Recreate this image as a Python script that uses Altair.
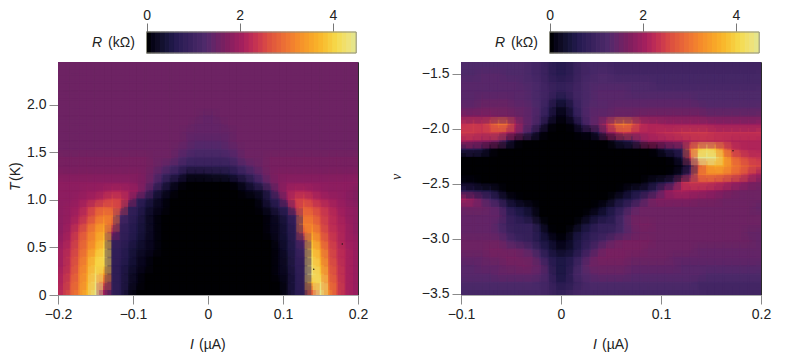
import altair as alt
import pandas as pd

# Resistance in units of 0.1 kOhm, rows listed top to bottom, columns left to right
left_R = [
[15,15,15,15,15,15,15,15,15,15,15,15,15,15,15,15,15,15,15,15,15,15,15,15,15,15,15,15,15,15,15,15,15,15,15,15],
[15,15,15,15,15,15,15,15,15,15,15,15,15,15,15,15,15,15,15,15,15,15,15,15,15,15,15,15,15,15,15,15,15,15,15,15],
[15,15,15,15,15,15,15,15,15,15,15,15,15,15,15,15,15,15,15,15,15,15,15,15,15,15,15,15,15,15,15,15,15,15,15,15],
[15,15,15,15,15,15,15,15,15,15,15,15,15,15,15,15,15,15,15,15,15,15,15,15,15,15,15,15,15,15,15,15,15,15,15,15],
[15,15,15,15,15,15,15,15,15,15,15,15,15,15,15,15,15,15,15,15,15,15,15,15,15,15,15,15,15,15,15,15,15,15,15,15],
[15,15,15,15,15,15,15,15,15,15,15,15,15,15,15,15,15,15,15,15,15,15,15,15,15,15,15,15,15,15,15,15,15,15,15,15],
[15,15,15,15,15,15,15,15,15,15,15,15,15,15,15,15,15,14,14,15,15,15,15,15,15,15,15,15,15,15,15,15,15,15,15,15],
[15,15,15,15,15,15,15,15,15,15,15,15,15,15,15,15,14,14,14,14,15,15,15,15,15,15,15,15,15,15,15,15,15,15,15,15],
[15,15,15,15,15,15,15,15,15,15,15,15,15,15,15,14,14,14,14,14,14,15,15,15,15,15,15,15,15,15,15,15,15,15,15,15],
[15,15,15,15,15,15,15,15,15,15,15,15,15,15,15,14,13,13,13,13,14,15,15,15,15,15,15,15,15,15,15,15,15,15,15,15],
[15,15,15,15,15,15,15,15,15,15,15,15,15,15,14,13,12,12,12,12,13,14,15,15,15,15,15,15,15,15,15,15,15,15,15,15],
[16,16,16,16,16,16,16,16,16,16,16,15,15,15,13,11,10,10,10,10,11,13,15,15,15,16,16,16,16,16,16,16,16,16,16,16],
[16,16,16,16,16,16,16,16,16,16,16,15,14,12,10,8,8,8,8,8,8,10,12,14,15,16,16,16,16,16,16,16,16,16,16,16],
[17,17,17,17,17,17,17,17,17,17,16,14,11,8,6,2,2,2,3,3,4,6,8,11,14,16,17,17,17,17,17,17,17,17,17,17],
[18,18,18,18,18,18,18,18,18,17,16,13,7,3,1,0,0,0,0,0,0,1,3,6,11,15,17,18,18,18,18,18,18,18,18,18],
[18,18,18,19,19,20,21,21,20,19,14,6,3,1,0,0,0,0,0,0,0,0,1,2,3,8,16,20,21,21,20,19,18,18,18,17],
[18,18,19,20,21,23,25,24,20,8,6,3,1,0,0,0,0,0,0,0,0,0,0,0,2,6,8,19,24,25,23,21,20,19,18,17],
[18,19,20,23,26,28,27,24,8,7,4,2,1,0,0,0,0,0,0,0,0,0,0,0,1,3,6,8,22,28,26,24,22,20,19,18],
[18,19,21,24,28,31,30,12,8,6,3,1,0,0,0,0,0,0,0,0,0,0,0,0,0,1,3,6,10,29,29,25,23,21,19,18],
[18,20,23,27,31,34,27,9,7,5,3,1,0,0,0,0,0,0,0,0,0,0,0,0,0,1,2,5,9,31,31,26,23,21,20,18],
[18,21,25,29,33,36,18,8,7,5,3,1,0,0,0,0,0,0,0,0,0,0,0,0,0,1,2,5,8,26,34,28,24,22,20,18],
[19,22,26,30,34,38,9,8,6,4,2,1,0,0,0,0,0,0,0,0,0,0,0,0,0,0,2,4,8,14,37,30,25,22,20,19],
[20,23,27,31,36,40,8,7,5,3,2,1,0,0,0,0,0,0,0,0,0,0,0,0,0,0,1,4,7,11,39,33,26,23,21,19],
[20,24,28,33,39,41,8,7,5,2,1,0,0,0,0,0,0,0,0,0,0,0,0,0,0,0,1,3,7,9,41,35,27,23,21,19],
[20,24,29,34,40,40,8,6,4,2,1,0,0,0,0,0,0,0,0,0,0,0,0,0,0,0,1,3,7,8,42,37,28,24,21,19],
[21,25,30,35,42,34,8,6,3,1,0,0,0,0,0,0,0,0,0,0,0,0,0,0,0,0,1,2,6,8,43,39,29,24,21,19],
[21,26,30,36,43,28,8,6,3,1,0,0,0,0,0,0,0,0,0,0,0,0,0,0,0,0,0,2,6,8,38,42,30,25,21,19],
[22,27,31,37,44,20,8,6,2,0,0,0,0,0,0,0,0,0,0,0,0,0,0,0,0,0,0,2,6,7,28,44,32,25,21,19],
]

right_R = [
[12,12,12,12,12,12,12,12,11,10,8,6,6,8,10,11,11,11,10,10,10,10,10,10,10,10,10,10,10,10,10,10,10,10,10,10],
[12,12,13,13,13,12,12,12,11,10,8,6,6,8,10,11,12,12,11,11,11,11,11,11,11,11,11,11,11,11,11,11,11,11,11,11],
[13,13,13,13,13,13,13,12,12,11,9,8,8,9,11,12,12,12,12,12,12,12,12,11,11,11,11,11,11,11,11,11,11,11,11,11],
[13,13,13,13,13,13,13,13,12,11,10,8,8,10,11,12,13,13,13,13,12,12,12,12,12,12,12,12,12,12,12,12,12,12,12,12],
[13,13,14,14,14,14,13,13,12,11,9,5,5,9,11,12,13,13,13,13,13,13,13,13,13,13,13,13,12,12,12,12,12,12,12,12],
[14,14,15,15,15,15,14,14,13,11,7,2,2,7,11,13,13,13,14,14,14,14,14,14,14,14,14,14,14,13,13,13,13,13,13,13],
[17,17,17,17,16,16,15,14,13,10,6,1,1,6,10,13,14,14,15,15,15,16,16,16,16,16,16,16,16,15,15,15,15,15,15,15],
[23,24,23,26,30,29,21,15,13,8,1,0,0,1,7,13,15,22,29,31,28,23,21,21,20,20,20,20,20,20,19,19,19,19,19,19],
[24,24,23,24,24,21,18,13,7,1,0,0,0,0,1,1,6,17,20,24,22,21,21,22,23,23,24,24,24,24,23,23,23,23,23,23],
[20,19,18,17,15,6,1,0,0,0,0,0,0,0,0,0,0,0,3,5,7,15,19,19,19,20,20,21,22,22,22,22,21,21,21,21],
[6,6,5,1,0,0,0,0,0,0,0,0,0,0,0,0,0,0,0,0,0,0,0,1,5,6,8,28,38,41,38,30,24,22,21,21],
[0,0,0,0,0,0,0,0,0,0,0,0,0,0,0,0,0,0,0,0,0,0,0,0,0,1,5,24,44,45,44,36,29,26,24,23],
[0,0,0,0,0,0,0,0,0,0,0,0,0,0,0,0,0,0,0,0,0,0,0,0,0,0,1,6,26,33,36,35,31,29,27,25],
[0,0,0,0,0,0,0,0,0,0,0,0,0,0,0,0,0,0,0,0,0,0,0,0,0,1,4,14,29,31,31,30,28,26,23,20],
[1,1,0,0,0,0,0,0,0,0,0,0,0,0,0,0,0,0,0,0,0,0,2,4,6,10,22,24,24,24,23,22,20,19,17,16],
[7,6,5,5,2,0,0,0,0,0,0,0,0,0,0,0,0,0,0,1,4,5,6,11,18,20,21,20,20,19,18,17,16,15,15,15],
[20,18,14,11,7,3,1,0,0,0,0,0,0,0,0,0,0,0,3,5,6,10,15,17,17,17,17,17,16,16,16,15,15,15,15,15],
[15,15,15,14,13,7,5,4,2,0,0,0,0,0,0,0,1,4,6,8,13,15,15,15,15,15,15,15,15,15,15,15,15,15,15,14],
[14,14,14,14,14,9,7,5,3,0,0,0,0,0,0,2,4,5,8,12,15,15,15,15,15,15,15,15,15,15,15,15,15,15,15,15],
[14,14,14,14,12,9,8,8,8,3,0,0,0,0,3,5,8,8,8,12,15,16,16,15,15,15,15,15,15,15,15,15,15,15,15,15],
[14,14,14,14,13,10,8,8,8,5,1,0,0,3,5,7,8,8,10,12,14,15,15,15,15,15,15,15,15,15,15,15,15,15,14,14],
[15,15,15,15,15,13,11,9,8,5,4,1,1,4,6,8,10,13,15,16,16,16,16,15,15,15,15,15,15,15,15,15,15,15,15,14],
[15,15,15,16,16,15,15,14,12,8,5,2,2,4,7,10,14,16,16,16,16,16,15,15,15,15,15,15,14,14,14,14,14,14,14,14],
[14,14,14,15,15,16,16,15,15,11,7,5,5,7,10,14,16,16,16,16,15,15,15,15,15,14,14,14,14,14,14,14,14,14,14,14],
[13,13,14,14,14,15,15,16,15,14,9,5,5,8,12,15,15,15,15,15,14,14,14,14,14,14,13,13,13,13,13,13,13,13,13,13],
[13,13,13,13,14,14,14,14,14,13,10,5,5,10,12,13,14,14,14,14,13,13,13,13,13,13,13,13,13,12,12,12,12,12,12,12],
[12,12,12,12,12,12,12,12,12,11,10,6,6,8,10,12,12,12,12,12,12,12,12,12,12,12,12,12,11,11,11,11,11,11,11,11],
[11,11,11,11,11,11,11,11,11,11,10,8,8,10,11,11,11,11,11,11,11,11,11,11,11,11,11,11,11,10,10,10,10,10,10,10],
]

color_stops = [0, 0.12, 0.57, 1.22, 1.65, 2.0, 2.58, 3.16, 3.67, 4.03, 4.3, 4.5]
color_hex = ["#000004", "#07051a", "#251a50", "#4f2a6b", "#7c1f5f", "#a3205e",
             "#dc5040", "#f4872c", "#f9b52a", "#f6d94a", "#eee27a", "#e0e79a"]
bar_levels = [0.0,0.1,0.2,0.3,0.4,0.5,0.6,0.7,0.8,0.9,1.0,1.1,1.2,1.3,1.4,1.5,1.6,1.7,1.8,1.9,2.0,2.1,
              2.2,2.3,2.4,2.5,2.6,2.7,2.8,2.9,3.0,3.1,3.2,3.3,3.4,3.5,3.6,3.7,3.8,3.9,4.0,4.1,4.2,4.3,4.4]
bar_ticks = [0, 2, 4]
left_xlim = [-0.2, 0.2]
left_ylim = [0, 2.45]
right_xlim = [-0.1, 0.2]
right_ylim = [-3.51, -1.395]
left_xticks = [-0.2, -0.1, 0, 0.1, 0.2]
left_yticks = [0, 0.5, 1.0, 1.5, 2.0]
right_xticks = [-0.1, 0, 0.1, 0.2]
right_yticks = [-1.5, -2.0, -2.5, -3.0, -3.5]
left_specks = {"I": [0.179, 0.141], "v": [0.537, 0.27]}
right_specks = {"I": [0.172], "v": [-2.20]}

FONT = "Liberation Sans"
INK = "#222222"
W, H = 300, 233
SCALE = alt.Scale(domain=color_stops, range=color_hex, clamp=True)
LABEL = "datum.value == 0 ? '0' : format(datum.value, '.1f')"


def grid(rows, xlim, ylim, grow=0.0):
    nr, nc = len(rows), len(rows[0])
    dx = (xlim[1] - xlim[0]) / nc
    dy = (ylim[1] - ylim[0]) / nr
    recs = []
    for r, row in enumerate(rows):
        for c, v in enumerate(row):
            recs.append({"x0": xlim[0] + (c - grow) * dx, "x1": xlim[0] + (c + 1 + grow) * dx,
                         "y1": ylim[1] - (r - grow) * dy, "y0": ylim[1] - (r + 1 + grow) * dy, "R": v / 10})
    return pd.DataFrame(recs)


def label(text, x, y, italic=False, align="left", angle=0, font=FONT, size=14):
    return alt.Chart(pd.DataFrame({"t": [text]})).mark_text(
        font=font, fontSize=size, fontStyle="italic" if italic else "normal",
        color=INK, align=align, baseline="alphabetic", angle=angle
    ).encode(x=alt.value(x), y=alt.value(y), text="t:N")


def colorbar():
    df = pd.DataFrame({"a": bar_levels, "b": [v + 0.1 for v in bar_levels]})
    xs = alt.Scale(domain=[-1.9, 4.539], nice=False, zero=False)
    base = alt.Chart(df).mark_rect().encode(
        x=alt.X("a:Q", scale=xs, title=None,
                axis=alt.Axis(orient="top", values=bar_ticks, domain=False, grid=False, tickSize=9,
                              tickColor="#777777", tickWidth=1, labelPadding=1, format="d",
                              labelFlush=False)),
        x2="b:Q",
        color=alt.Color("a:Q", scale=SCALE, legend=None),
        stroke=alt.Stroke("a:Q", scale=SCALE, legend=None),
    )
    frame = alt.Chart(pd.DataFrame({"a": [0.0], "b": [4.5]})).mark_rect(
        fill=None, stroke="#8e8e80", strokeWidth=1
    ).encode(x=alt.X("a:Q", scale=xs, title=None), x2="b:Q")
    return alt.layer(base, frame, label("R", 34, 15, italic=True), label("(kΩ)", 50, 15)).properties(width=W, height=21)


def panel(rows, xlim, ylim, xticks, yticks, specks, extras):
    xs = alt.Scale(domain=xlim, nice=False, zero=False)
    ys = alt.Scale(domain=ylim, nice=False, zero=False)
    heat = alt.Chart(grid(rows, xlim, ylim)).mark_rect(strokeWidth=1.2, clip=True).encode(
        x=alt.X("x0:Q", scale=xs, title=None,
                axis=alt.Axis(values=xticks, labelExpr=LABEL, grid=False, tickSize=9, tickColor="#8a8a8a",
                              domainColor="#aaaaaa", labelPadding=3, labelFlush=False, labelOverlap=False)),
        x2="x1:Q",
        y=alt.Y("y0:Q", scale=ys, title=None,
                axis=alt.Axis(values=yticks, labelExpr=LABEL, grid=False, tickSize=9, tickColor="#8a8a8a",
                              domain=False, labelPadding=3, labelFlush=False, labelOverlap=False)),
        y2="y1:Q",
        color=alt.Color("R:Q", scale=SCALE, legend=None),
        stroke=alt.Stroke("R:Q", scale=SCALE, legend=None),
    )
    soft = grid(rows, xlim, ylim, grow=0.4)
    passes = [
        alt.Chart(d).mark_rect(opacity=0.3, clip=True).encode(
            x=alt.X("x0:Q", scale=xs), x2="x1:Q", y=alt.Y("y0:Q", scale=ys), y2="y1:Q",
            color=alt.Color("R:Q", scale=SCALE, legend=None))
        for d in (soft, soft.iloc[::-1])
    ]
    dots = alt.Chart(pd.DataFrame(specks)).mark_point(filled=True, size=2, color="#111111", opacity=1).encode(
        x=alt.X("I:Q", scale=xs), y=alt.Y("v:Q", scale=ys))
    return alt.layer(heat, *passes, dots, *extras).properties(
        width=W, height=H, view=alt.ViewBackground(stroke="#2a2a2a", strokeWidth=1))


left = panel(left_R, left_xlim, left_ylim, left_xticks, left_yticks, left_specks, [
    label("I", 132, 287, italic=True), label("(µA)", 141, 287),
    label("T", -38, 129, italic=True, angle=270), label("(K)", -38, 119, angle=270),
])
right = panel(right_R, right_xlim, right_ylim, right_xticks, right_yticks, right_specks, [
    label("I", 132, 287, italic=True), label("(µA)", 141, 287),
    label("ν", -60, 118, italic=True, angle=270, font="Liberation Serif"),
])

chart = alt.hconcat(
    alt.vconcat(colorbar(), left, spacing=7),
    alt.vconcat(colorbar(), right, spacing=7),
    spacing=20,
).resolve_scale(color="independent", stroke="independent").properties(padding=0).configure_view(
    stroke=None
).configure_axis(
    labelFont=FONT, labelFontSize=14, labelColor=INK
).configure_concat(spacing=9)

chart.save("out.html", embed_options={"renderer": "svg", "actions": False})
